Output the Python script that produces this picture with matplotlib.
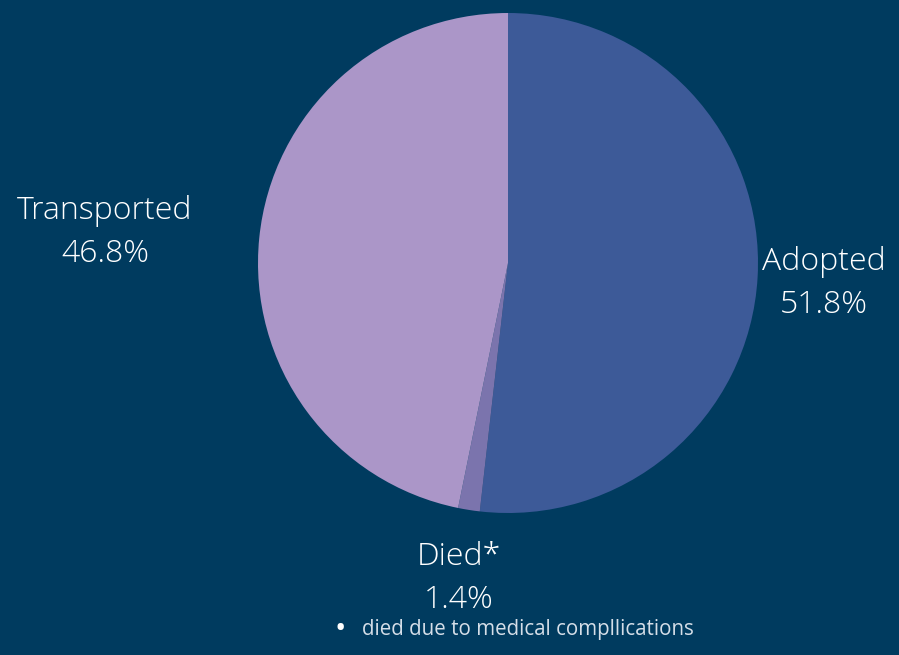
import numpy as np
import matplotlib
matplotlib.use('Agg')
import matplotlib.pyplot as plt

# Outcome shares
labels = ['Adopted', 'Died*', 'Transported']
shares = [51.8, 1.4, 46.8]
colors = ['#3d5a98', '#7b74ad', '#ab96c8']
label_dist = [1.265, 1.265, 1.62]
label_nudge = [-0.01, -0.012, -0.04]
footnote = 'died due to medical compllications'

bg = '#003b5f'
plt.rcParams['font.family'] = ['Open Sans', 'DejaVu Sans']

fig = plt.figure(figsize=(8.99, 6.55), dpi=100, facecolor=bg)
# pie centre ~ (508, 263) px, radius 250 px
ax = fig.add_axes([(508 - 250) / 899, (655 - 513) / 655, 500 / 899, 500 / 655])
ax.set_facecolor(bg)

wedges, _ = ax.pie(shares, colors=colors, startangle=90, counterclock=False,
                   radius=1.0, wedgeprops=dict(linewidth=0))
ax.set_xlim(-1, 1)
ax.set_ylim(-1, 1)
ax.set_aspect('equal')
ax.axis('off')

for w, lab, val, d, dy in zip(wedges, labels, shares, label_dist, label_nudge):
    mid = np.deg2rad((w.theta1 + w.theta2) / 2)
    ax.text(d * np.cos(mid), d * np.sin(mid) + dy, f'{lab}\n{val}%',
            ha='center', va='center', color='white', fontsize=23,
            fontweight='light', linespacing=1.45, clip_on=False)

fig.text(340 / 899, 1 - 630 / 655, '\u2022', color='white', fontsize=22,
         ha='center', va='center')
fig.text(362 / 899, 1 - 630 / 655, footnote, color='#d5dee8', fontsize=14.8,
         ha='left', va='center')

fig.savefig('out.png', dpi=100, facecolor=bg)
